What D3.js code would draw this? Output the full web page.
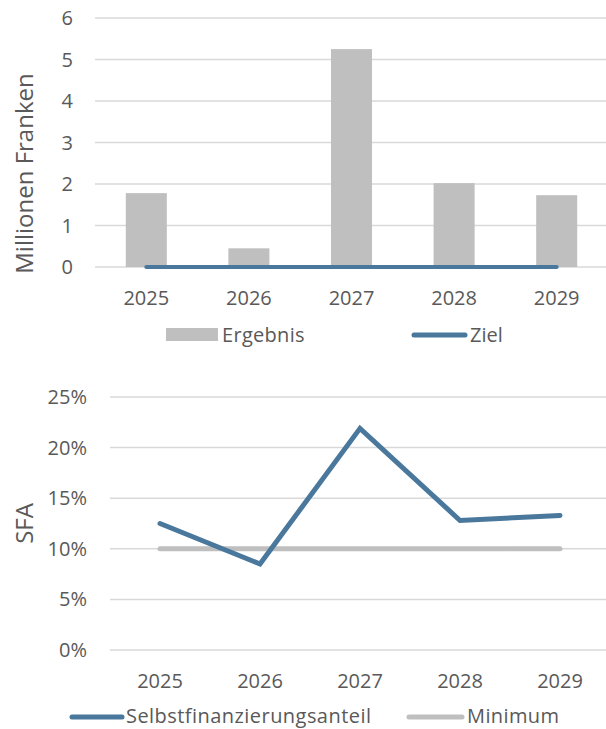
<!DOCTYPE html>
<html>
<head>
<meta charset="utf-8">
<script src="https://cdn.jsdelivr.net/npm/d3@7"></script>
<style>
  body { margin: 0; background: #fff; }
  svg { display: block; font-family: "Open Sans", sans-serif; }
</style>
</head>
<body>
<div id="chart"></div>
<script>
const years = ["2025", "2026", "2027", "2028", "2029"];
const ergebnis = [1.78, 0.45, 5.25, 2.02, 1.73];
const ziel = [0, 0, 0, 0, 0];
const sfa = [0.125, 0.085, 0.219, 0.128, 0.133];
const minimum = [0.10, 0.10, 0.10, 0.10, 0.10];
const topTicks = [0, 1, 2, 3, 4, 5, 6];
const bottomTicks = [0, 0.05, 0.10, 0.15, 0.20, 0.25];

const width = 606;
const height = 729;
const grey = "#bfbfbf";
const blue = "#4a789c";
const textColor = "#595959";
const gridColor = "#d9d9d9";

const svg = d3.select("#chart").append("svg")
    .attr("width", width)
    .attr("height", height);

// ---- top chart: bars ----
const x1 = d3.scaleBand(years, [95, 608]).paddingInner(0.6).paddingOuter(0.3);
const y1 = d3.scaleLinear([0, 6], [267, 18]);

const barChart = svg.append("g");

barChart.append("g")
    .selectAll("line")
    .data(topTicks)
    .join("line")
    .attr("x1", 95)
    .attr("x2", width)
    .attr("y1", d => y1(d))
    .attr("y2", d => y1(d))
    .attr("stroke", gridColor)
    .attr("stroke-width", 1.5);

barChart.append("g")
    .selectAll("text")
    .data(topTicks)
    .join("text")
    .attr("x", 73)
    .attr("y", d => y1(d))
    .attr("dy", "0.35em")
    .attr("text-anchor", "end")
    .attr("fill", textColor)
    .attr("font-size", 20)
    .text(d => d);

barChart.append("g")
    .selectAll("rect")
    .data(years)
    .join("rect")
    .attr("x", d => x1(d))
    .attr("width", x1.bandwidth())
    .attr("y", (d, i) => y1(ergebnis[i]))
    .attr("height", (d, i) => y1(0) - y1(ergebnis[i]))
    .attr("fill", grey);

const xc1 = d => x1(d) + x1.bandwidth() / 2;

barChart.append("path")
    .datum(ziel)
    .attr("fill", "none")
    .attr("stroke", blue)
    .attr("stroke-width", 4)
    .attr("stroke-linecap", "round")
    .attr("d", d3.line().x((d, i) => xc1(years[i])).y(d => y1(d)));

barChart.append("g")
    .selectAll("text")
    .data(years)
    .join("text")
    .attr("x", d => xc1(d))
    .attr("y", 305)
    .attr("text-anchor", "middle")
    .attr("fill", textColor)
    .attr("font-size", 20)
    .text(d => d);

barChart.append("text")
    .attr("transform", `translate(33, ${(y1(0) + y1(6)) / 2 + 31}) rotate(-90)`)
    .attr("text-anchor", "middle")
    .attr("fill", textColor)
    .attr("font-size", 24)
    .text("Millionen Franken");

// legend top
barChart.append("rect")
    .attr("x", 166).attr("y", 328)
    .attr("width", 52).attr("height", 13)
    .attr("fill", grey);
barChart.append("text")
    .attr("x", 222).attr("y", 335).attr("dy", "0.35em")
    .attr("fill", textColor).attr("font-size", 20)
    .attr("letter-spacing", 0.3)
    .text("Ergebnis");
barChart.append("line")
    .attr("x1", 414).attr("x2", 465)
    .attr("y1", 335).attr("y2", 335)
    .attr("stroke", blue).attr("stroke-width", 5)
    .attr("stroke-linecap", "round");
barChart.append("text")
    .attr("x", 470).attr("y", 335).attr("dy", "0.35em")
    .attr("fill", textColor).attr("font-size", 20)
    .text("Ziel");

// ---- bottom chart: lines ----
const x2 = d3.scalePoint(years, [110, 610]).padding(0.5);
const y2 = d3.scaleLinear([0, 0.25], [650, 397]);

const lineChart = svg.append("g");

lineChart.append("g")
    .selectAll("line")
    .data(bottomTicks)
    .join("line")
    .attr("x1", 110)
    .attr("x2", width)
    .attr("y1", d => y2(d))
    .attr("y2", d => y2(d))
    .attr("stroke", gridColor)
    .attr("stroke-width", 1.5);

lineChart.append("g")
    .selectAll("text")
    .data(bottomTicks)
    .join("text")
    .attr("x", 87)
    .attr("y", d => y2(d))
    .attr("dy", "0.35em")
    .attr("text-anchor", "end")
    .attr("fill", textColor)
    .attr("font-size", 20)
    .text(d3.format(".0%"));

const line2 = d3.line().x((d, i) => x2(years[i])).y(d => y2(d));

lineChart.append("path")
    .datum(minimum)
    .attr("fill", "none")
    .attr("stroke", grey)
    .attr("stroke-width", 5)
    .attr("stroke-linecap", "round")
    .attr("d", line2);

lineChart.append("path")
    .datum(sfa)
    .attr("fill", "none")
    .attr("stroke", blue)
    .attr("stroke-width", 5)
    .attr("stroke-linecap", "round")
    .attr("d", line2);

lineChart.append("g")
    .selectAll("text")
    .data(years)
    .join("text")
    .attr("x", d => x2(d))
    .attr("y", 688)
    .attr("text-anchor", "middle")
    .attr("fill", textColor)
    .attr("font-size", 20)
    .text(d => d);

lineChart.append("text")
    .attr("transform", `translate(33, ${(y2(0) + y2(0.25)) / 2}) rotate(-90)`)
    .attr("text-anchor", "middle")
    .attr("fill", textColor)
    .attr("font-size", 24)
    .text("SFA");

// legend bottom
lineChart.append("line")
    .attr("x1", 72).attr("x2", 122)
    .attr("y1", 717).attr("y2", 717)
    .attr("stroke", blue).attr("stroke-width", 5)
    .attr("stroke-linecap", "round");
lineChart.append("text")
    .attr("x", 126).attr("y", 716).attr("dy", "0.35em")
    .attr("fill", textColor).attr("font-size", 20)
    .attr("letter-spacing", 0.45)
    .text("Selbstfinanzierungsanteil");
lineChart.append("line")
    .attr("x1", 409).attr("x2", 462)
    .attr("y1", 717).attr("y2", 717)
    .attr("stroke", grey).attr("stroke-width", 5)
    .attr("stroke-linecap", "round");
lineChart.append("text")
    .attr("x", 467).attr("y", 716).attr("dy", "0.35em")
    .attr("fill", textColor).attr("font-size", 20)
    .attr("letter-spacing", 0.4)
    .text("Minimum");
</script>
</body>
</html>
